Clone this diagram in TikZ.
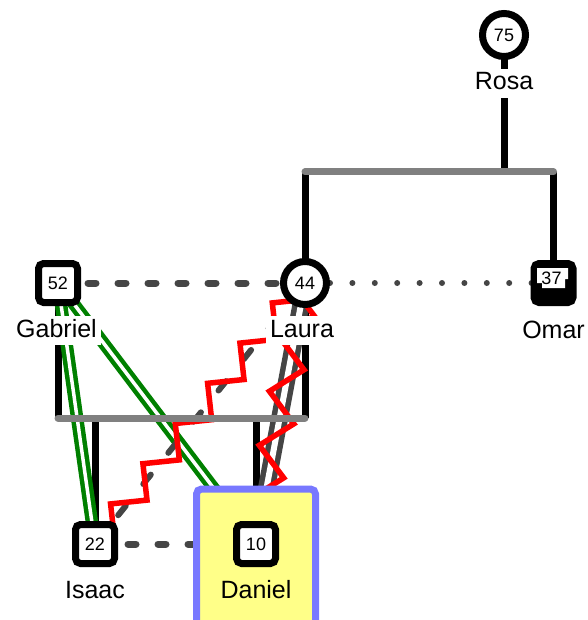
\documentclass[tikz,border=0pt]{standalone}
\usepackage{fontspec}
\setmainfont{Liberation Sans}
\usetikzlibrary{calc,decorations.pathmorphing}
\definecolor{bargrey}{HTML}{808080}
\definecolor{linkgrey}{HTML}{454545}
\definecolor{hostred}{HTML}{FF0000}
\definecolor{bondgreen}{HTML}{008000}
\definecolor{focusfill}{HTML}{FFFF88}
\definecolor{focusedge}{HTML}{7878FF}
\newcommand\ageFont{\fontsize{18pt}{20pt}\selectfont}
\newcommand\nameFont{\fontsize{25pt}{28pt}\selectfont}
\pgfdeclarelayer{bg}
\pgfsetlayers{bg,main}
\begin{document}
\begin{tikzpicture}[x=1pt,y=-1pt,
  female/.style={circle,draw=black,line width=7pt,minimum size=43pt,fill=white,inner sep=0pt,font=\ageFont},
  male/.style={rectangle,rounded corners=5pt,draw=black,line width=7pt,minimum size=39pt,fill=white,inner sep=0pt,font=\ageFont},
  namelbl/.style={anchor=base,fill=white,inner xsep=4pt,inner ysep=3pt,text height=18pt,text depth=5pt,font=\nameFont},
  kin/.style={draw=black,line width=7pt},
  sibbar/.style={draw=bargrey,line width=7pt,line cap=round},
  partner/.style={draw=linkgrey,line width=7pt,line cap=round,dash pattern=on 8pt off 22pt},
  affair/.style={draw=linkgrey,line width=6pt,line cap=round,dash pattern=on 0pt off 22.4pt,dash phase=19.8pt},
  closebond/.style={draw=bondgreen,line width=4.5pt,double=white,double distance=3.5pt},
  distant/.style={draw=linkgrey,line width=6pt,line cap=round,dash pattern=on 12pt off 28pt,dash phase=3pt},
  fusedbond/.style={draw=linkgrey,line width=5.5pt,double=white,double distance=6pt},
  hostile/.style={draw=hostred,line width=5.5pt,decorate},
]
\useasboundingbox (0,0) rectangle (587,620);

% highlighted person
\node[draw=focusedge,fill=focusfill,line width=7pt,rounded corners=5pt,
      minimum width=119pt,minimum height=160pt,anchor=north,inner sep=0pt] (focus) at (256,485.5) {};

% people
\node[female] (rosa) at (504,35) {75};
\node[male] (gabriel) at (58,283) {52};
\node[female] (laura) at (305,283) {44};
\node[male,fill=black] (omar) at (553.5,283) {};
\node[male] (isaac) at (95,544) {22};
\node[male] (daniel) at (256,544) {10};

% age badge on the filled square
\fill[white] ($(omar)+(-16.5,-15)$) -- ++(31,0) -- ++(0,11) -- ++(-3,0) -- ++(0,9)
  -- ++(-23,0) -- ++(0,-5) -- ++(-5,0) -- cycle;
\node[font=\ageFont,inner sep=0pt] (omarage) at ($(omar)+(-2,-5)$) {37};

% names
\node[namelbl] (rosaname) at ($(rosa)+(0,55)$) {Rosa};
\node[namelbl] (gabrielname) at ($(gabriel)+(-1.5,54)$) {Gabriel};
\node[namelbl] (lauraname) at ($(laura)+(-3,54)$) {Laura};
\node[namelbl] (omarname) at ($(omar)+(0,55)$) {Omar};
\node[namelbl] (isaacname) at ($(isaac)+(0,54)$) {Isaac};
\node[namelbl,fill=none] (danielname) at ($(daniel)+(0,54)$) {Daniel};

% family bars
\coordinate (upL) at ($(laura)+(0,-111)$);
\coordinate (upR) at (omar |- upL);
\coordinate (loL) at ($(gabriel)+(0,135)$);
\coordinate (loR) at (laura |- loL);

\begin{pgfonlayer}{bg}
  % parent and child lines
  \draw[kin] (rosa.center) -- (rosa |- upL);
  \draw[kin] (laura.center) -- (upL);
  \draw[kin] (omar.center) -- (upR);
  \draw[kin] (gabriel.center) -- (loL);
  \draw[kin] (laura.center) -- (loR);
  \draw[kin] (isaac |- loL) -- (isaac.center);
  \draw[kin] (daniel |- loL) -- (daniel.center);

  % emotional relationships
  \draw[closebond] (gabriel.center) -- (isaac.center);
  \draw[closebond] (gabriel.center) -- (daniel.center);
  \draw[fusedbond] (laura.center) -- (daniel.center);
  \draw[distant] (isaac.center) -- (laura.center);
  \draw[hostile,decoration={zigzag,segment length=51.6pt,amplitude=13pt,pre length=28.1pt}]
    (isaac.center) -- (laura.center);
  \draw[hostile,decoration={zigzag,segment length=55pt,amplitude=15pt,pre length=16.75pt}]
    (laura.center) -- (daniel.center);

  % sibling bars
  \draw[sibbar] (upL) -- (upR);
  \draw[sibbar] (loL) -- (loR);

  % couples
  \draw[partner] (gabriel.center) -- (laura.center);
  \draw[affair] (laura.center) -- (omar.center);
  \draw[partner,dash phase=27pt] (isaac.center) -- (daniel.center);
\end{pgfonlayer}
\end{tikzpicture}
\end{document}
